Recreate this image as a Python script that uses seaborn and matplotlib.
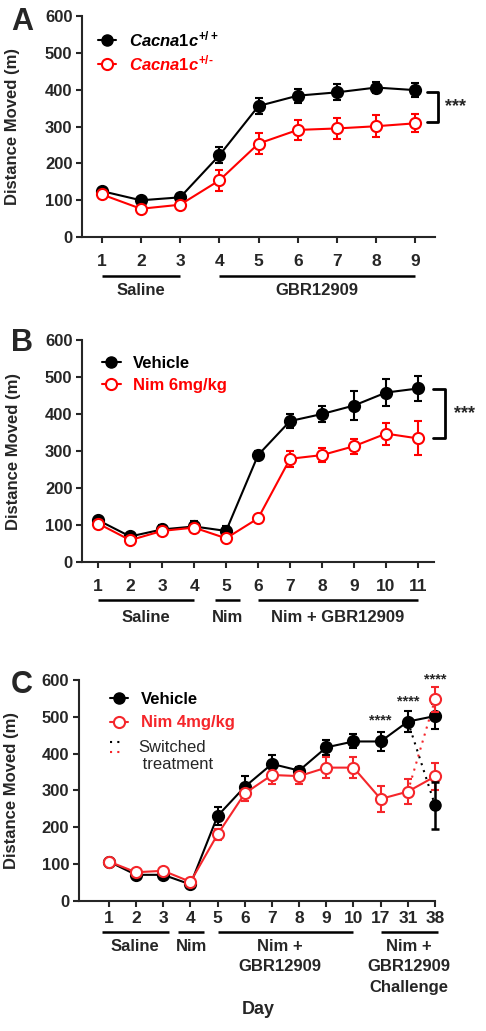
import matplotlib
matplotlib.use("Agg")
import matplotlib.pyplot as plt
import matplotlib.transforms as mtransforms
from matplotlib.lines import Line2D
import numpy as np
import seaborn as sns

# ---- Panel A: Cacna1c genotype, GBR12909 sensitisation ----
days_a = [1, 2, 3, 4, 5, 6, 7, 8, 9]
wt_a = [125, 100, 108, 222, 356, 384, 393, 406, 399]
wt_a_sem = [6, 5, 8, 22, 22, 19, 22, 15, 19]
het_a = [116, 77, 88, 154, 254, 291, 295, 301, 309]
het_a_sem = [7, 6, 8, 28, 28, 26, 28, 30, 24]
groups_a = ["Saline", "GBR12909"]
group_start_a = [1, 4]
group_end_a = [3, 9]
group_mid_a = [2, 6.5]

# ---- Panel B: nimodipine 6mg/kg ----
days_b = [1, 2, 3, 4, 5, 6, 7, 8, 9, 10, 11]
veh_b = [113, 69, 88, 96, 84, 289, 381, 400, 423, 458, 469]
veh_b_sem = [6, 6, 12, 14, 12, 10, 18, 22, 40, 36, 33]
nim_b = [104, 59, 84, 93, 64, 118, 279, 289, 313, 347, 334]
nim_b_sem = [5, 6, 8, 8, 6, 6, 21, 19, 20, 30, 46]
groups_b = ["Saline", "Nim", "Nim + GBR12909"]
group_start_b = [1, 4.65, 6]
group_end_b = [4, 5.45, 11]
group_mid_b = [2.5, 5.05, 8.5]

# ---- Panel C: nimodipine 4mg/kg with challenge days ----
days_c = ["1", "2", "3", "4", "5", "6", "7", "8", "9", "10", "17", "31", "38"]
veh_c = [107, 71, 71, 45, 231, 310, 372, 354, 417, 433, 433, 487, 502]
veh_c_sem = [5, 6, 6, 6, 25, 30, 23, 10, 21, 19, 26, 29, 34]
nim_c = [107, 78, 82, 52, 181, 292, 342, 339, 362, 362, 277, 297, 338]
nim_c_sem = [5, 5, 5, 5, 15, 21, 25, 22, 29, 28, 35, 33, 37]
switch_veh_c = 260   # vehicle animals given nim on day 38
switch_veh_c_sem = 64
switch_nim_c = 547   # nim animals given vehicle on day 38
switch_nim_c_sem = 34
stars_c_day = ["17", "31", "38"]
stars_c_y = [489, 541, 602]
groups_c = ["Saline", "Nim", "Nim +\nGBR12909", "Nim +\nGBR12909\nChallenge"]
group_start_c = [-0.25, 2.55, 4, 10]
group_end_c = [2.2, 3.5, 9, 12.1]
group_mid_c = [0.95, 3.05, 6.3, 11.05]

RED = "#ff0000"
RED_C = "#f5262b"

sns.set_style("ticks")
plt.rcParams["font.family"] = ["Liberation Sans", "DejaVu Sans"]
plt.rcParams["font.weight"] = "bold"
plt.rcParams["axes.labelweight"] = "bold"
plt.rcParams["mathtext.fontset"] = "custom"
plt.rcParams["mathtext.it"] = "Liberation Sans:italic:bold"
plt.rcParams["mathtext.rm"] = "Liberation Sans:bold"

fig = plt.figure(figsize=(4.86, 10.31), dpi=100)
ax_a = fig.add_axes([0.169, 0.770, 0.726, 0.2144])
ax_b = fig.add_axes([0.169, 0.4549, 0.724, 0.2153])
ax_c = fig.add_axes([0.1626, 0.1261, 0.7325, 0.2144])


def draw_series(ax, x, y, err, color, filled):
    ax.errorbar(x, y, yerr=err, fmt="none", ecolor=color, elinewidth=1.5,
                capsize=3, capthick=1.5, clip_on=False, zorder=2)
    sns.lineplot(x=x, y=y, ax=ax, color=color, lw=1.5, marker="o", markersize=8,
                 markerfacecolor=color if filled else "white", markeredgecolor=color,
                 markeredgewidth=1.5, errorbar=None, clip_on=False, zorder=3)


def style_axes(ax, xticks, xlabels, xpad):
    ax.set_ylim(0, 600)
    ax.set_yticks(range(0, 601, 100))
    ax.set_xticks(xticks)
    ax.set_xticklabels(xlabels)
    sns.despine(ax=ax)
    for s in ["left", "bottom"]:
        ax.spines[s].set_linewidth(1.5)
    ax.tick_params(axis="both", direction="out", length=4, width=1.5)
    ax.tick_params(axis="y", labelsize=12, pad=3)
    ax.tick_params(axis="x", labelsize=12.5, pad=xpad)
    ax.set_xlabel("")
    ax.set_ylabel("Distance Moved (m)", fontsize=12, fontweight="bold")
    ax.yaxis.set_label_coords(-0.175, 0.5)


def draw_groups(ax, names, starts, ends, mids, bar_y, text_y, va="center"):
    trans = mtransforms.blended_transform_factory(ax.transData, ax.transAxes)
    for name, s, e, m in zip(names, starts, ends, mids):
        ax.plot([s, e], [bar_y, bar_y], transform=trans, color="black", lw=1.8,
                clip_on=False, solid_capstyle="butt")
        ax.text(m, text_y, name, transform=trans, ha="center", va=va, fontsize=12,
                fontweight="bold", linespacing=1.45)


def draw_bracket(ax, x0, x1, y_top, y_bot, star_x):
    trans = mtransforms.blended_transform_factory(ax.transAxes, ax.transData)
    ax.plot([x0, x1, x1, x0], [y_top, y_top, y_bot, y_bot], transform=trans,
            color="black", lw=2, clip_on=False)
    ax.text(star_x, (y_top + y_bot) / 2, "***", transform=trans, ha="center",
            va="center", fontsize=13, fontweight="bold")


def legend(ax, labels, colors, anchor, spacing):
    handles = [Line2D([0], [0], color=colors[0], lw=1.5, marker="o", markersize=8,
                      markerfacecolor=colors[0], markeredgecolor=colors[0]),
               Line2D([0], [0], color=colors[1], lw=1.5, marker="o", markersize=8,
                      markerfacecolor="white", markeredgecolor=colors[1],
                      markeredgewidth=1.5)]
    leg = ax.legend(handles, labels, loc="upper left", bbox_to_anchor=anchor,
                    frameon=False, handlelength=1.1, handletextpad=0.75,
                    labelspacing=spacing, borderpad=0, borderaxespad=0,
                    prop={"size": 12, "weight": "bold"})
    for t, c in zip(leg.get_texts(), colors):
        t.set_color(c)


# ---- A ----
draw_series(ax_a, days_a, wt_a, wt_a_sem, "black", True)
draw_series(ax_a, days_a, het_a, het_a_sem, RED, False)
ax_a.set_xlim(0.5, 9.5)
style_axes(ax_a, days_a, [str(d) for d in days_a], 8.5)
legend(ax_a, [r"$\mathit{Cacna1c^{+/+}}$", r"$\mathit{Cacna1c}^{\mathit{+/}\text{-}}$"],
       ["black", RED], (0.045, 0.94), 0.25)
draw_groups(ax_a, groups_a, group_start_a, group_end_a, group_mid_a, -0.176, -0.24)
draw_bracket(ax_a, 0.977, 1.008, 394, 312, 1.059)

# ---- B ----
draw_series(ax_b, days_b, veh_b, veh_b_sem, "black", True)
draw_series(ax_b, days_b, nim_b, nim_b_sem, RED, False)
ax_b.set_xlim(0.5, 11.5)
style_axes(ax_b, days_b, [str(d) for d in days_b], 8.5)
legend(ax_b, ["Vehicle", "Nim 6mg/kg"], ["black", RED], (0.057, 0.93), 0.45)
draw_groups(ax_b, groups_b, group_start_b, group_end_b, group_mid_b, -0.171, -0.25)
draw_bracket(ax_b, 0.997, 1.031, 467, 335, 1.088)

# ---- C ----
xc = np.arange(len(days_c))
draw_series(ax_c, xc, veh_c, veh_c_sem, "black", True)
draw_series(ax_c, xc, nim_c, nim_c_sem, RED_C, False)
last = len(days_c) - 1
# switched-treatment points joined from day 31 with dotted lines
ax_c.plot([last - 1, last], [veh_c[-2], switch_veh_c], ls=(0, (1, 2.5)), color="black",
          lw=1.5, zorder=1, clip_on=False)
ax_c.plot([last - 1, last], [nim_c[-2], switch_nim_c], ls=(0, (1, 2.5)), color=RED_C,
          lw=1.5, zorder=1, clip_on=False)
ax_c.errorbar([last], [switch_veh_c], yerr=[switch_veh_c_sem], fmt="o", color="black",
              ms=8, elinewidth=1.8, capsize=3, capthick=1.8, clip_on=False, zorder=4)
ax_c.errorbar([last], [switch_nim_c], yerr=[switch_nim_c_sem], fmt="o", color=RED_C,
              mfc="white", mec=RED_C, mew=1.5, ms=8, elinewidth=1.5, capsize=3,
              capthick=1.5, clip_on=False, zorder=4)
ax_c.set_xlim(-1.1, 12)
style_axes(ax_c, xc, days_c, 3)
ax_c.yaxis.set_label_coords(-0.168, 0.5)
for d, y in zip(stars_c_day, stars_c_y):
    ax_c.text(days_c.index(d), y, "****", ha="center", va="center", fontsize=10.5,
              fontweight="bold")
legend(ax_c, ["Vehicle", "Nim 4mg/kg"], ["black", RED_C], (0.087, 0.945), 0.5)
# legend entry for the switched treatment
ax_c.plot([0.087, 0.118], [0.719, 0.719], transform=ax_c.transAxes, color="black",
          ls=(0, (1, 2.5)), lw=1.5, clip_on=False)
ax_c.plot([0.087, 0.118], [0.674, 0.674], transform=ax_c.transAxes, color=RED_C,
          ls=(0, (1, 2.5)), lw=1.5, clip_on=False)
ax_c.text(0.166, 0.655, "Switched\n treatment", transform=ax_c.transAxes, ha="left",
          va="center", fontsize=12, fontweight="normal", linespacing=1.2)
draw_groups(ax_c, groups_c, group_start_c, group_end_c, group_mid_c, -0.140, -0.172,
            va="top")
ax_c.text(0.503, -0.493, "Day", transform=ax_c.transAxes, ha="center", va="center",
          fontsize=13, fontweight="bold")

for letter, y in zip("ABC", [0.9787, 0.6673, 0.3356]):
    fig.text(0.045, y, letter, ha="center", va="center", fontsize=22, fontweight="bold")

fig.savefig("out.png", dpi=100)
